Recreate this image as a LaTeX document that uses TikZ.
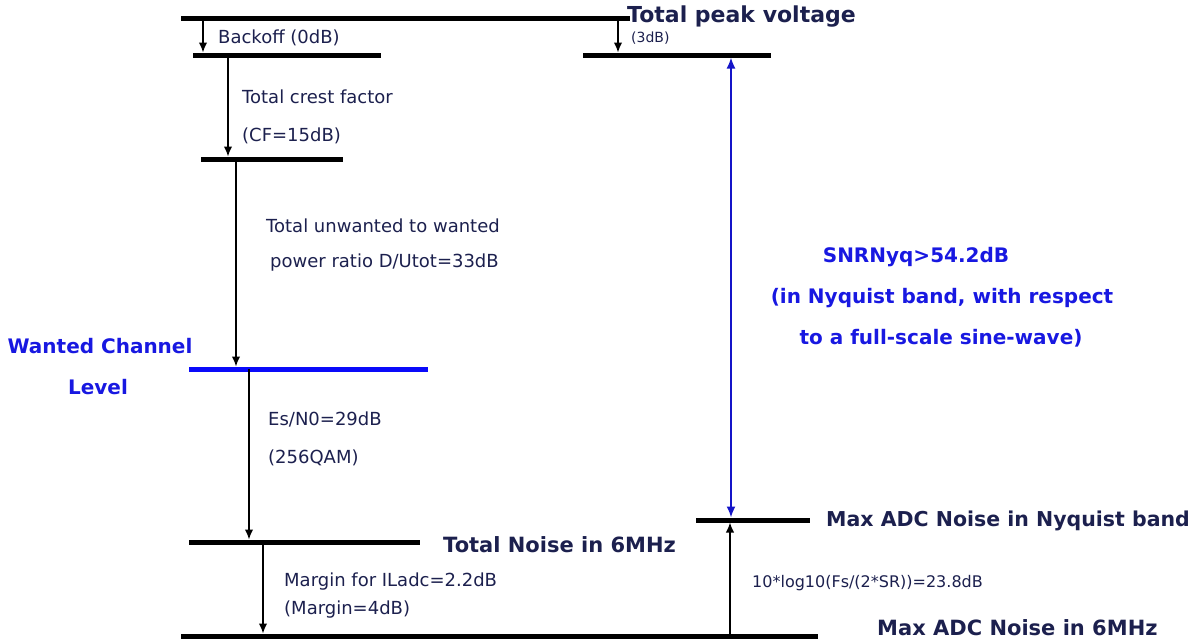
\documentclass[tikz,border=0pt]{standalone}
\usepackage{fontspec}
\setmainfont{DejaVu Sans}
\usetikzlibrary{arrows.meta}
\definecolor{navy}{RGB}{28,32,78}
\definecolor{lblue}{RGB}{24,24,225}
\definecolor{barblue}{RGB}{10,10,250}
\definecolor{arrblue}{RGB}{20,20,200}
\begin{document}
\begin{tikzpicture}[x=1pt,y=-1pt,
 bar/.style={line width=5pt},
 arr/.style={line width=1.4pt,-{Latex[length=10pt,width=8.5pt]}},
 small/.style={font=\fontsize{18}{21}\selectfont, text=navy, anchor=west, inner sep=0pt},
 tiny/.style={font=\fontsize{14}{16}\selectfont, text=navy, anchor=west, inner sep=0pt},
 big/.style={font=\fontsize{21}{25}\selectfont\bfseries, text=navy, anchor=west, inner sep=0pt},
 blu/.style={font=\fontsize{20}{24}\selectfont\bfseries, text=lblue, inner sep=0pt}]
\useasboundingbox (0,0) rectangle (1200,641);
% bar end points
\coordinate (b1l) at (181,18);  \coordinate (b1r) at (630,18);
\coordinate (b2l) at (193,55);  \coordinate (b2r) at (381,55);
\coordinate (b3l) at (583,55);  \coordinate (b3r) at (771,55);
\coordinate (b4l) at (201,159); \coordinate (b4r) at (343,159);
\coordinate (b5l) at (189,369); \coordinate (b5r) at (428,369);
\coordinate (b6l) at (189,542); \coordinate (b6r) at (420,542);
\coordinate (b7l) at (181,636); \coordinate (b7r) at (818,636);
\coordinate (b8l) at (696,520); \coordinate (b8r) at (810,520);
\draw[bar] (b1l) -- (b1r);
\draw[bar] (b2l) -- (b2r);
\draw[bar] (b3l) -- (b3r);
\draw[bar] (b4l) -- (b4r);
\draw[bar,barblue] (b5l) -- (b5r);
\draw[bar] (b6l) -- (b6r);
\draw[bar] (b7l) -- (b7r);
\draw[bar] (b8l) -- (b8r);
% arrow end points
\coordinate (a1s) at (203,18);  \coordinate (a1e) at (203,52.5);
\coordinate (a2s) at (618,18);  \coordinate (a2e) at (618,52.5);
\coordinate (a3s) at (228,55);  \coordinate (a3e) at (228,156.5);
\coordinate (a4s) at (236,159); \coordinate (a4e) at (236,366.5);
\coordinate (a5s) at (249,369); \coordinate (a5e) at (249,539.5);
\coordinate (a6s) at (263,542); \coordinate (a6e) at (263,633.5);
\coordinate (a7s) at (731,57.5); \coordinate (a7e) at (731,517.5);
\coordinate (a8s) at (730,636); \coordinate (a8e) at (730,522.5);
\draw[arr] (a1s) -- (a1e);
\draw[arr] (a2s) -- (a2e);
\draw[arr] (a3s) -- (a3e);
\draw[arr] (a4s) -- (a4e);
\draw[arr] (a5s) -- (a5e);
\draw[arr] (a6s) -- (a6e);
\draw[arr,arrblue,line width=1.8pt,{Latex[length=11pt,width=9pt]}-{Latex[length=11pt,width=9pt]}] (a7s) -- (a7e);
\draw[arr] (a8s) -- (a8e);
% labels
\node[small] (t1) at (218,38) {Backoff (0dB)};
\node[tiny] (t2) at (631,38) {(3dB)};
\node[big,font=\fontsize{22}{26}\selectfont\bfseries] (t3) at (627,17) {Total peak voltage};
\node[small] (t4) at (242,97) {Total crest factor};
\node[small] (t5) at (242,136) {(CF=15dB)};
\node[small] (t6) at (266,226) {Total unwanted to wanted};
\node[small] (t7) at (270,263) {power ratio D/Utot=33dB};
\node[big,text=lblue,anchor=center,font=\fontsize{20}{24}\selectfont\bfseries] (t8) at (100,346) {Wanted Channel};
\node[big,text=lblue,anchor=center,font=\fontsize{20}{24}\selectfont\bfseries] (t9) at (98,387) {Level};
\node[small] (t10) at (268,419) {Es/N0=29dB};
\node[small] (t11) at (268,458) {(256QAM)};
\node[big] (t12) at (443,545) {Total Noise in 6MHz};
\node[small] (t13) at (284,582) {Margin for ILadc=2.2dB};
\node[small] (t14) at (284,610) {(Margin=4dB)};
\node[big,font=\fontsize{20.5}{24}\selectfont\bfseries] (t15) at (826,521) {Max ADC Noise in Nyquist band};
\node[small,font=\fontsize{16}{19}\selectfont] (t16) at (752,583) {10*log10(Fs/(2*SR))=23.8dB};
\node[big] (t17) at (877,628) {Max ADC Noise in 6MHz};
\node[blu] (t18) at (916,257) {SNRNyq>54.2dB};
\node[blu] (t19) at (942,298) {(in Nyquist band, with respect};
\node[blu] (t20) at (941,338) {to a full-scale sine-wave)};
\end{tikzpicture}
\end{document}
